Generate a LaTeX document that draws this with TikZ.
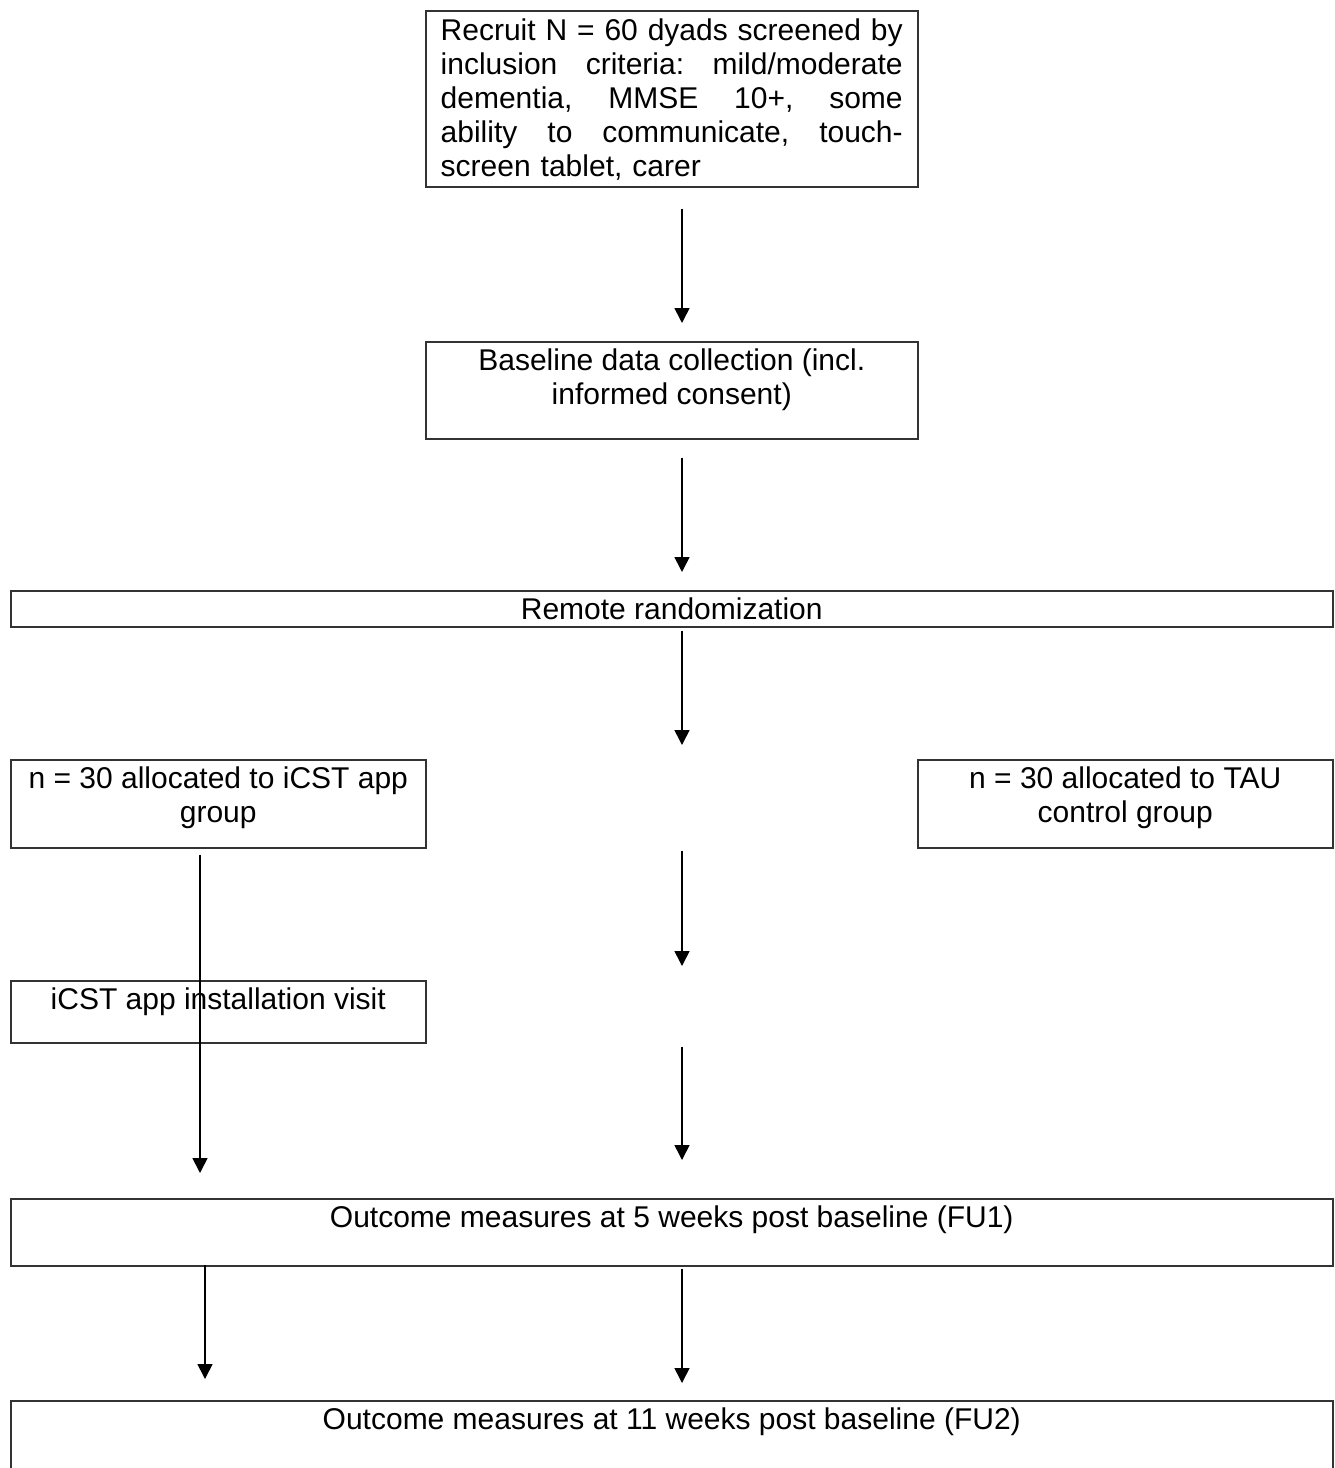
\documentclass[tikz,border=0pt]{standalone}
\usepackage{fontspec}
\setmainfont{Liberation Sans}
\usetikzlibrary{arrows.meta,calc}
\definecolor{boxgray}{HTML}{333333}
\begin{document}
\begin{tikzpicture}[x=1pt,y=-1pt,
  box/.style={draw=boxgray,line width=1.5pt,inner sep=0pt,anchor=north west},
  txt/.style={inner sep=0pt,font=\fontsize{30}{34}\selectfont,align=center,anchor=north},
  arr/.style={draw=black,line width=1.6pt,-{Triangle[length=15pt,width=15pt]}}]
\useasboundingbox (0,0) rectangle (1335,1468);

% boxes
\node[box,minimum width=492pt,minimum height=176pt] (recruit) at (425,10) {};
\node[box,minimum width=492pt,minimum height=97pt] (base) at (425,341) {};
\node[box,minimum width=1322pt,minimum height=36pt] (remote) at (10,590) {};
\node[box,minimum width=415pt,minimum height=88pt] (icst) at (10,759) {};
\node[box,minimum width=415pt,minimum height=88pt] (tau) at (917,759) {};
\node[box,minimum width=415pt,minimum height=62pt] (install) at (10,980) {};
\node[box,minimum width=1322pt,minimum height=67pt] (fu1) at (10,1198) {};
\node[box,minimum width=1322pt,minimum height=80pt] (fu2) at (10,1400) {};

% texts
\node[txt,anchor=north west,align=left,text width=462pt] (trecruit) at (440.5,19) {%
\makebox[462pt][l]{Recruit\hfill N\hfill =\hfill 60\hfill dyads\hfill screened\hfill by}\\
\makebox[462pt][l]{inclusion\hfill criteria:\hfill mild/moderate}\\
\makebox[462pt][l]{dementia,\hfill MMSE\hfill 10+,\hfill some}\\
\makebox[462pt][l]{ability\hfill to\hfill communicate,\hfill touch-}\\
\makebox[462pt][l]{screen tablet, carer}};
\node[txt] (tbase) at ($(base.north)+(0,8)$) {Baseline data collection (incl.\\ informed consent)};
\node[txt] (tremote) at ($(remote.north)+(0,7.5)$) {Remote randomization};
\node[txt] (ticst) at ($(icst.north)+(0,8)$) {n = 30 allocated to iCST app\\ group};
\node[txt] (ttau) at ($(tau.north)+(0,8)$) {n = 30 allocated to TAU\\ control group};
\node[txt] (tinstall) at ($(install.north)+(0,8)$) {iCST app installation visit};
\node[txt] (tfu1) at ($(fu1.north)+(0,8)$) {Outcome measures at 5 weeks post baseline (FU1)};
\node[txt] (tfu2) at ($(fu2.north)+(0,8)$) {Outcome measures at 11 weeks post baseline (FU2)};

% arrow columns
\coordinate (mx) at (682,0);
\coordinate (lx) at (200,0);
\coordinate (lx2) at (205,0);

% arrows
\draw[arr] ($(recruit.south -| mx)+(0,21)$) -- ($(base.north -| mx)+(0,-18)$);
\draw[arr] ($(base.south -| mx)+(0,18)$) -- ($(remote.north -| mx)+(0,-18)$);
\draw[arr] ($(remote.south -| mx)+(0,3)$) -- ($(icst.north -| mx)+(0,-14)$);
\draw[arr] ($(icst.south -| mx)+(0,2)$) -- ($(install.north -| mx)+(0,-14)$);
\draw[arr] ($(install.south -| mx)+(0,3)$) -- ($(fu1.north -| mx)+(0,-38)$);
\draw[arr] ($(icst.south -| lx)+(0,6)$) -- ($(fu1.north -| lx)+(0,-25)$);
\draw[arr] ($(fu1.south -| lx2)+(0,-2)$) -- ($(fu2.north -| lx2)+(0,-21)$);
\draw[arr] ($(fu1.south -| mx)+(0,2)$) -- ($(fu2.north -| mx)+(0,-17)$);
\end{tikzpicture}
\end{document}
